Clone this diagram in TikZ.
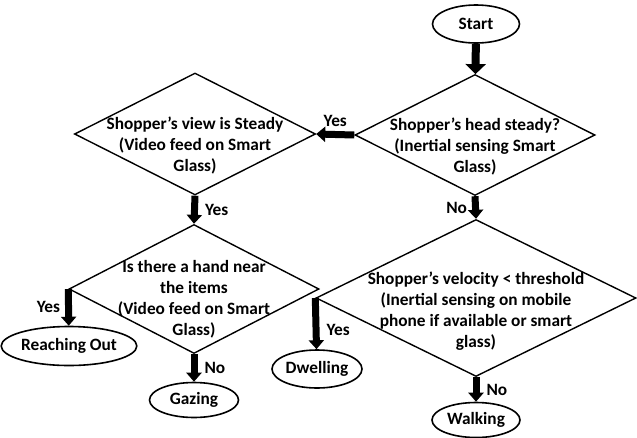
\documentclass[tikz,border=0pt]{standalone}
\usepackage{fontspec}
\setmainfont{Carlito}
\usetikzlibrary{positioning,shapes,arrows.meta,calc}

\begin{document}
\begin{tikzpicture}[
    x=1pt, y=-1pt,
    every node/.style={font=\bfseries\fontsize{17.3}{21}\selectfont, align=center},
    terminal/.style={ellipse, draw, line width=1.6pt, inner sep=0pt},
    decision/.style={diamond, draw, line width=1.4pt, inner sep=0pt},
    flow/.style={line width=7pt, -{Triangle[width=15pt,length=9pt]}},
    lbl/.style={inner sep=1pt}
]
\useasboundingbox (0,0) rectangle (637,437);

\node[terminal, minimum width=87pt, minimum height=38pt] (start) at (476,24) {Start};

\node[decision, minimum width=240pt, minimum height=121pt] (head) at (475,135) {};
\node (headtxt) at ([yshift=-12pt]head) {Shopper’s head steady?\\(Inertial sensing Smart\\Glass)};

\node[decision, minimum width=241pt, minimum height=122pt] (view) at (195,134) {};
\node (viewtxt) at ([yshift=-12pt]view) {Shopper’s view is Steady\\(Video feed on Smart\\Glass)};

\node[decision, minimum width=250pt, minimum height=129pt] (hand) at (194,289) {};
\node (handtxt) at ([yshift=-10pt]hand) {Is there a hand near\\the items\\(Video feed on Smart\\Glass)};

\node[decision, minimum width=320pt, minimum height=157pt] (velo) at (476,298) {};
\node (velotxt) at ([yshift=-13pt]velo) {Shopper’s velocity < threshold\\(Inertial sensing on mobile\\phone if available or smart\\glass)};

\node[terminal, minimum width=126pt, minimum height=39pt] (reach) at (69,346) {Reaching Out};
\node[terminal, minimum width=89pt, minimum height=35pt] (gaze) at (194,400) {Gazing};
\node[terminal, minimum width=90pt, minimum height=38pt] (dwell) at (317,369) {Dwelling};
\node[terminal, minimum width=88pt, minimum height=35pt] (walk) at (476,420) {Walking};

\draw[line width=8pt, -{Triangle[width=20pt,length=10pt]}] (start) -- (head);
\draw[flow] (head.west) -- (view.east) node[lbl, midway, above=3pt] (yes1) {Yes};
\draw[flow] (view.south) -- (hand.north) node[lbl, midway, right=6pt] (yes2) {Yes};
\draw[flow] (hand.west) -- (reach) node[lbl, midway, left=4pt] (yes3) {Yes};
\draw[flow] (hand.south) -- (gaze) node[lbl, midway, right=6pt] (no1) {No};
\draw[flow] (head.south) -- (velo.north) node[lbl, midway, left=4pt] (no2) {No};
\draw[flow] (velo.west) -- (dwell) node[lbl, pos=0.62, right=6pt] (yes4) {Yes};
\draw[flow] (velo.south) -- (walk) node[lbl, midway, right=6pt] (no3) {No};
\end{tikzpicture}
\end{document}
